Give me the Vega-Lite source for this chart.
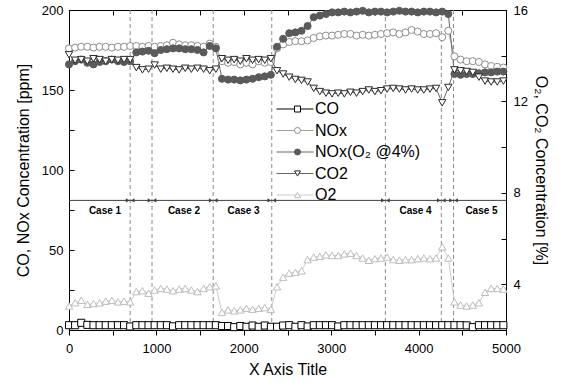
{
"$schema": "https://vega.github.io/schema/vega-lite/v6.json",
"width": 437, "height": 320,
"autosize": "none",
"padding": {"left": 69, "top": 10, "right": 57, "bottom": 53},
"background": "white",
"config": {
  "font": "Liberation Sans",
  "view": {"stroke": "#000000", "strokeWidth": 1},
  "axis": {"grid": false, "domainColor": "#000000", "tickColor": "#000000", "labelColor": "#000000", "titleColor": "#000000", "labelFontSize": 13, "titleFontSize": 16, "titleFontWeight": "normal", "labelFont": "Liberation Sans", "titleFont": "Liberation Sans", "labelOverlap": false, "labelFlush": false}
},
"datasets": {
  "cuts": [{"x": 700}, {"x": 950}, {"x": 1650}, {"x": 2320}, {"x": 3620}, {"x": 4260}, {"x": 4400}],
  "cases": [{"x": 412, "t": "Case 1"}, {"x": 1316, "t": "Case 2"}, {"x": 1997, "t": "Case 3"}, {"x": 3965, "t": "Case 4"}, {"x": 4720, "t": "Case 5"}],
  "L": [
{"x":0,"s":"CO","v":3},{"x":70,"s":"CO","v":3},{"x":140,"s":"CO","v":4.5},{"x":210,"s":"CO","v":3.2},{"x":280,"s":"CO","v":3},{"x":350,"s":"CO","v":3},{"x":420,"s":"CO","v":3},{"x":490,"s":"CO","v":3},{"x":560,"s":"CO","v":3},{"x":630,"s":"CO","v":3},{"x":700,"s":"CO","v":2.2},{"x":770,"s":"CO","v":3},{"x":840,"s":"CO","v":3},{"x":910,"s":"CO","v":3},{"x":980,"s":"CO","v":3},{"x":1050,"s":"CO","v":3},{"x":1120,"s":"CO","v":3},{"x":1190,"s":"CO","v":2.3},{"x":1260,"s":"CO","v":3},{"x":1330,"s":"CO","v":3},{"x":1400,"s":"CO","v":3},{"x":1470,"s":"CO","v":3},{"x":1540,"s":"CO","v":3},{"x":1610,"s":"CO","v":3},{"x":1680,"s":"CO","v":3},{"x":1750,"s":"CO","v":2.5},{"x":1820,"s":"CO","v":2.5},{"x":1890,"s":"CO","v":1.8},{"x":1960,"s":"CO","v":2.5},{"x":2030,"s":"CO","v":2},{"x":2100,"s":"CO","v":2.8},{"x":2170,"s":"CO","v":2},{"x":2240,"s":"CO","v":2.8},{"x":2310,"s":"CO","v":2},{"x":2380,"s":"CO","v":2},{"x":2450,"s":"CO","v":2.8},{"x":2520,"s":"CO","v":3},{"x":2590,"s":"CO","v":2},{"x":2660,"s":"CO","v":3},{"x":2730,"s":"CO","v":2.2},{"x":2800,"s":"CO","v":3},{"x":2870,"s":"CO","v":3},{"x":2940,"s":"CO","v":3},{"x":3010,"s":"CO","v":3},{"x":3080,"s":"CO","v":2.2},{"x":3150,"s":"CO","v":3},{"x":3220,"s":"CO","v":3},{"x":3290,"s":"CO","v":3},{"x":3360,"s":"CO","v":3},{"x":3430,"s":"CO","v":3},{"x":3500,"s":"CO","v":3},{"x":3570,"s":"CO","v":3},{"x":3640,"s":"CO","v":3},{"x":3710,"s":"CO","v":3},{"x":3780,"s":"CO","v":3},{"x":3850,"s":"CO","v":3},{"x":3920,"s":"CO","v":3},{"x":3990,"s":"CO","v":3},{"x":4060,"s":"CO","v":3},{"x":4130,"s":"CO","v":3},{"x":4200,"s":"CO","v":3},{"x":4270,"s":"CO","v":3},{"x":4340,"s":"CO","v":3},{"x":4410,"s":"CO","v":3},{"x":4480,"s":"CO","v":3},{"x":4550,"s":"CO","v":2.9},{"x":4620,"s":"CO","v":1.8},{"x":4690,"s":"CO","v":3},{"x":4760,"s":"CO","v":3},{"x":4830,"s":"CO","v":3},{"x":4900,"s":"CO","v":3},{"x":4970,"s":"CO","v":3},
{"x":0,"s":"NOx","v":176},{"x":70,"s":"NOx","v":176.5},{"x":140,"s":"NOx","v":177},{"x":210,"s":"NOx","v":177},{"x":280,"s":"NOx","v":176.5},{"x":350,"s":"NOx","v":177},{"x":420,"s":"NOx","v":177},{"x":490,"s":"NOx","v":176.5},{"x":560,"s":"NOx","v":177},{"x":630,"s":"NOx","v":177},{"x":700,"s":"NOx","v":177.5},{"x":770,"s":"NOx","v":177.5},{"x":840,"s":"NOx","v":177},{"x":910,"s":"NOx","v":177.5},{"x":980,"s":"NOx","v":177},{"x":1050,"s":"NOx","v":177.5},{"x":1120,"s":"NOx","v":178},{"x":1190,"s":"NOx","v":179.5},{"x":1260,"s":"NOx","v":178.5},{"x":1330,"s":"NOx","v":178},{"x":1400,"s":"NOx","v":178},{"x":1470,"s":"NOx","v":177.5},{"x":1540,"s":"NOx","v":177},{"x":1610,"s":"NOx","v":179},{"x":1680,"s":"NOx","v":177},{"x":1750,"s":"NOx","v":168},{"x":1820,"s":"NOx","v":167},{"x":1890,"s":"NOx","v":167.5},{"x":1960,"s":"NOx","v":166},{"x":2030,"s":"NOx","v":167},{"x":2100,"s":"NOx","v":166},{"x":2170,"s":"NOx","v":168},{"x":2240,"s":"NOx","v":167},{"x":2310,"s":"NOx","v":167.5},{"x":2380,"s":"NOx","v":176},{"x":2450,"s":"NOx","v":178.5},{"x":2520,"s":"NOx","v":180},{"x":2590,"s":"NOx","v":180.5},{"x":2660,"s":"NOx","v":180.5},{"x":2730,"s":"NOx","v":181},{"x":2800,"s":"NOx","v":182.5},{"x":2870,"s":"NOx","v":183.5},{"x":2940,"s":"NOx","v":184},{"x":3010,"s":"NOx","v":184},{"x":3080,"s":"NOx","v":184.5},{"x":3150,"s":"NOx","v":185},{"x":3220,"s":"NOx","v":185},{"x":3290,"s":"NOx","v":184},{"x":3360,"s":"NOx","v":184.5},{"x":3430,"s":"NOx","v":184},{"x":3500,"s":"NOx","v":184.5},{"x":3570,"s":"NOx","v":185},{"x":3640,"s":"NOx","v":185.5},{"x":3710,"s":"NOx","v":186},{"x":3780,"s":"NOx","v":185},{"x":3850,"s":"NOx","v":186},{"x":3920,"s":"NOx","v":187.5},{"x":3990,"s":"NOx","v":186.5},{"x":4060,"s":"NOx","v":185},{"x":4130,"s":"NOx","v":185},{"x":4200,"s":"NOx","v":185.5},{"x":4270,"s":"NOx","v":183},{"x":4340,"s":"NOx","v":187},{"x":4410,"s":"NOx","v":171},{"x":4480,"s":"NOx","v":169},{"x":4550,"s":"NOx","v":168},{"x":4620,"s":"NOx","v":168},{"x":4690,"s":"NOx","v":167.5},{"x":4760,"s":"NOx","v":166},{"x":4830,"s":"NOx","v":165},{"x":4900,"s":"NOx","v":164.5},{"x":4970,"s":"NOx","v":164},
{"x":0,"s":"NOxc","v":166},{"x":70,"s":"NOxc","v":168},{"x":140,"s":"NOxc","v":169},{"x":210,"s":"NOxc","v":167},{"x":280,"s":"NOxc","v":166},{"x":350,"s":"NOxc","v":167.5},{"x":420,"s":"NOxc","v":168},{"x":490,"s":"NOxc","v":169},{"x":560,"s":"NOxc","v":168},{"x":630,"s":"NOxc","v":167.5},{"x":700,"s":"NOxc","v":168},{"x":770,"s":"NOxc","v":173.5},{"x":840,"s":"NOxc","v":174},{"x":910,"s":"NOxc","v":174.5},{"x":980,"s":"NOxc","v":173},{"x":1050,"s":"NOxc","v":175},{"x":1120,"s":"NOxc","v":175.5},{"x":1190,"s":"NOxc","v":176},{"x":1260,"s":"NOxc","v":176},{"x":1330,"s":"NOxc","v":175.5},{"x":1400,"s":"NOxc","v":175.5},{"x":1470,"s":"NOxc","v":175},{"x":1540,"s":"NOxc","v":173.5},{"x":1610,"s":"NOxc","v":177.5},{"x":1680,"s":"NOxc","v":176},{"x":1750,"s":"NOxc","v":157},{"x":1820,"s":"NOxc","v":156.5},{"x":1890,"s":"NOxc","v":156.5},{"x":1960,"s":"NOxc","v":156},{"x":2030,"s":"NOxc","v":156.5},{"x":2100,"s":"NOxc","v":157},{"x":2170,"s":"NOxc","v":158},{"x":2240,"s":"NOxc","v":158.5},{"x":2310,"s":"NOxc","v":159.5},{"x":2380,"s":"NOxc","v":177},{"x":2450,"s":"NOxc","v":182},{"x":2520,"s":"NOxc","v":185.5},{"x":2590,"s":"NOxc","v":186},{"x":2660,"s":"NOxc","v":187},{"x":2730,"s":"NOxc","v":190},{"x":2800,"s":"NOxc","v":195.5},{"x":2870,"s":"NOxc","v":196.5},{"x":2940,"s":"NOxc","v":197.5},{"x":3010,"s":"NOxc","v":198.5},{"x":3080,"s":"NOxc","v":198.5},{"x":3150,"s":"NOxc","v":199},{"x":3220,"s":"NOxc","v":198.5},{"x":3290,"s":"NOxc","v":199},{"x":3360,"s":"NOxc","v":199.5},{"x":3430,"s":"NOxc","v":198.5},{"x":3500,"s":"NOxc","v":199},{"x":3570,"s":"NOxc","v":199},{"x":3640,"s":"NOxc","v":198.5},{"x":3710,"s":"NOxc","v":199},{"x":3780,"s":"NOxc","v":199.5},{"x":3850,"s":"NOxc","v":199},{"x":3920,"s":"NOxc","v":199},{"x":3990,"s":"NOxc","v":198.5},{"x":4060,"s":"NOxc","v":199},{"x":4130,"s":"NOxc","v":199},{"x":4200,"s":"NOxc","v":198.5},{"x":4270,"s":"NOxc","v":199},{"x":4340,"s":"NOxc","v":197.5},{"x":4410,"s":"NOxc","v":160},{"x":4480,"s":"NOxc","v":159.5},{"x":4550,"s":"NOxc","v":160},{"x":4620,"s":"NOxc","v":160},{"x":4690,"s":"NOxc","v":160.5},{"x":4760,"s":"NOxc","v":161},{"x":4830,"s":"NOxc","v":161},{"x":4900,"s":"NOxc","v":161.5},{"x":4970,"s":"NOxc","v":161.5}
  ],
  "R": [
{"x":0,"s":"CO2","v":14.04},{"x":70,"s":"CO2","v":13.8},{"x":140,"s":"CO2","v":13.83},{"x":210,"s":"CO2","v":13.76},{"x":280,"s":"CO2","v":13.87},{"x":350,"s":"CO2","v":13.83},{"x":420,"s":"CO2","v":13.76},{"x":490,"s":"CO2","v":13.83},{"x":560,"s":"CO2","v":13.8},{"x":630,"s":"CO2","v":13.83},{"x":700,"s":"CO2","v":13.83},{"x":770,"s":"CO2","v":13.48},{"x":840,"s":"CO2","v":13.38},{"x":910,"s":"CO2","v":13.41},{"x":980,"s":"CO2","v":13.59},{"x":1050,"s":"CO2","v":13.41},{"x":1120,"s":"CO2","v":13.45},{"x":1190,"s":"CO2","v":13.41},{"x":1260,"s":"CO2","v":13.38},{"x":1330,"s":"CO2","v":13.45},{"x":1400,"s":"CO2","v":13.41},{"x":1470,"s":"CO2","v":13.45},{"x":1540,"s":"CO2","v":13.41},{"x":1610,"s":"CO2","v":13.34},{"x":1680,"s":"CO2","v":13.41},{"x":1750,"s":"CO2","v":13.87},{"x":1820,"s":"CO2","v":13.8},{"x":1890,"s":"CO2","v":13.83},{"x":1960,"s":"CO2","v":13.76},{"x":2030,"s":"CO2","v":13.87},{"x":2100,"s":"CO2","v":13.8},{"x":2170,"s":"CO2","v":13.83},{"x":2240,"s":"CO2","v":13.8},{"x":2310,"s":"CO2","v":13.87},{"x":2380,"s":"CO2","v":13.34},{"x":2450,"s":"CO2","v":13.2},{"x":2520,"s":"CO2","v":13.06},{"x":2590,"s":"CO2","v":12.96},{"x":2660,"s":"CO2","v":12.92},{"x":2730,"s":"CO2","v":12.85},{"x":2800,"s":"CO2","v":12.57},{"x":2870,"s":"CO2","v":12.43},{"x":2940,"s":"CO2","v":12.36},{"x":3010,"s":"CO2","v":12.33},{"x":3080,"s":"CO2","v":12.36},{"x":3150,"s":"CO2","v":12.33},{"x":3220,"s":"CO2","v":12.4},{"x":3290,"s":"CO2","v":12.36},{"x":3360,"s":"CO2","v":12.43},{"x":3430,"s":"CO2","v":12.5},{"x":3500,"s":"CO2","v":12.43},{"x":3570,"s":"CO2","v":12.47},{"x":3640,"s":"CO2","v":12.54},{"x":3710,"s":"CO2","v":12.57},{"x":3780,"s":"CO2","v":12.54},{"x":3850,"s":"CO2","v":12.5},{"x":3920,"s":"CO2","v":12.54},{"x":3990,"s":"CO2","v":12.5},{"x":4060,"s":"CO2","v":12.5},{"x":4130,"s":"CO2","v":12.54},{"x":4200,"s":"CO2","v":12.57},{"x":4270,"s":"CO2","v":11.94},{"x":4340,"s":"CO2","v":12.61},{"x":4410,"s":"CO2","v":13.38},{"x":4480,"s":"CO2","v":13.34},{"x":4550,"s":"CO2","v":13.31},{"x":4620,"s":"CO2","v":13.27},{"x":4690,"s":"CO2","v":13.06},{"x":4760,"s":"CO2","v":12.89},{"x":4830,"s":"CO2","v":12.85},{"x":4900,"s":"CO2","v":12.85},{"x":4970,"s":"CO2","v":12.89},
{"x":0,"s":"O2","v":3.05},{"x":70,"s":"O2","v":3.19},{"x":140,"s":"O2","v":3.3},{"x":210,"s":"O2","v":3.12},{"x":280,"s":"O2","v":3.16},{"x":350,"s":"O2","v":3.19},{"x":420,"s":"O2","v":3.26},{"x":490,"s":"O2","v":3.3},{"x":560,"s":"O2","v":3.23},{"x":630,"s":"O2","v":3.26},{"x":700,"s":"O2","v":3.23},{"x":770,"s":"O2","v":3.68},{"x":840,"s":"O2","v":3.72},{"x":910,"s":"O2","v":3.61},{"x":980,"s":"O2","v":3.75},{"x":1050,"s":"O2","v":3.82},{"x":1120,"s":"O2","v":3.79},{"x":1190,"s":"O2","v":3.72},{"x":1260,"s":"O2","v":3.79},{"x":1330,"s":"O2","v":3.82},{"x":1400,"s":"O2","v":3.75},{"x":1470,"s":"O2","v":3.68},{"x":1540,"s":"O2","v":3.82},{"x":1610,"s":"O2","v":3.89},{"x":1680,"s":"O2","v":3.93},{"x":1750,"s":"O2","v":2.77},{"x":1820,"s":"O2","v":2.88},{"x":1890,"s":"O2","v":2.84},{"x":1960,"s":"O2","v":2.88},{"x":2030,"s":"O2","v":2.95},{"x":2100,"s":"O2","v":2.91},{"x":2170,"s":"O2","v":2.95},{"x":2240,"s":"O2","v":2.98},{"x":2310,"s":"O2","v":2.91},{"x":2380,"s":"O2","v":3.89},{"x":2450,"s":"O2","v":4.31},{"x":2520,"s":"O2","v":4.49},{"x":2590,"s":"O2","v":4.52},{"x":2660,"s":"O2","v":4.59},{"x":2730,"s":"O2","v":5.08},{"x":2800,"s":"O2","v":5.19},{"x":2870,"s":"O2","v":5.22},{"x":2940,"s":"O2","v":5.29},{"x":3010,"s":"O2","v":5.26},{"x":3080,"s":"O2","v":5.26},{"x":3150,"s":"O2","v":5.33},{"x":3220,"s":"O2","v":5.36},{"x":3290,"s":"O2","v":5.26},{"x":3360,"s":"O2","v":5.15},{"x":3430,"s":"O2","v":5.05},{"x":3500,"s":"O2","v":5.12},{"x":3570,"s":"O2","v":5.15},{"x":3640,"s":"O2","v":5.19},{"x":3710,"s":"O2","v":5.08},{"x":3780,"s":"O2","v":5.05},{"x":3850,"s":"O2","v":5.08},{"x":3920,"s":"O2","v":5.08},{"x":3990,"s":"O2","v":5.12},{"x":4060,"s":"O2","v":5.15},{"x":4130,"s":"O2","v":5.12},{"x":4200,"s":"O2","v":5.15},{"x":4270,"s":"O2","v":5.64},{"x":4340,"s":"O2","v":5.15},{"x":4410,"s":"O2","v":3.23},{"x":4480,"s":"O2","v":3.09},{"x":4550,"s":"O2","v":3.05},{"x":4620,"s":"O2","v":3.09},{"x":4690,"s":"O2","v":3.19},{"x":4760,"s":"O2","v":3.65},{"x":4830,"s":"O2","v":3.82},{"x":4900,"s":"O2","v":3.82},{"x":4970,"s":"O2","v":3.79}
  ]
},
"layer": [
  {
    "layer": [
      {"data": {"name": "cuts"}, "mark": {"type": "rule", "color": "#8a8a8a", "strokeDash": [4, 3], "strokeWidth": 1},
       "encoding": {"x": {"field": "x", "type": "quantitative"}}},
      {"data": {"values": [{}]}, "mark": {"type": "rule", "color": "#404040", "strokeWidth": 1},
       "encoding": {"y": {"datum": 81, "type": "quantitative"}}},
      {"data": {"name": "cuts"}, "mark": {"type": "point", "shape": "triangle-right", "size": 18, "filled": true, "color": "#404040", "opacity": 1, "xOffset": -2.5},
       "encoding": {"x": {"field": "x", "type": "quantitative"}, "y": {"datum": 81, "type": "quantitative"}}},
      {"data": {"name": "cuts"}, "mark": {"type": "point", "shape": "triangle-left", "size": 18, "filled": true, "color": "#404040", "opacity": 1, "xOffset": 2.5},
       "encoding": {"x": {"field": "x", "type": "quantitative"}, "y": {"datum": 81, "type": "quantitative"}}},
      {"data": {"name": "cases"}, "mark": {"type": "text", "fontWeight": "bold", "fontSize": 10, "color": "#000000", "baseline": "middle", "align": "center"},
       "encoding": {"x": {"field": "x", "type": "quantitative"}, "y": {"datum": 74.5, "type": "quantitative"}, "text": {"field": "t"}}},
      {"data": {"name": "L"}, "mark": {"type": "line", "strokeWidth": 1},
       "encoding": {
         "x": {"field": "x", "type": "quantitative"},
         "y": {"field": "v", "type": "quantitative"},
         "detail": {"field": "s"},
         "color": {"field": "s", "type": "nominal", "scale": {"domain": ["O2", "CO2", "NOxc", "NOx", "CO"], "range": ["#cccccc", "#666666", "#666666", "#a0a0a0", "#000000"]},
           "legend": {"title": null, "orient": "none", "legendX": 218, "legendY": 91, "padding": 0, "values": ["CO", "NOx", "NOxc", "CO2", "O2"], "labelFontSize": 16, "labelFont": "Liberation Sans", "labelColor": "#000000", "symbolSize": 100, "symbolType": "M-3.7,0H3.7", "symbolStrokeWidth": 1, "labelOffset": 12, "rowPadding": 5.5,
             "labelExpr": "datum.value === 'NOxc' ? 'NOx(O₂ @4%)' : datum.label"}}
       }},
      {"data": {"name": "L"}, "mark": {"type": "point", "size": 50, "strokeWidth": 1, "opacity": 1},
       "encoding": {
         "x": {"field": "x", "type": "quantitative"},
         "y": {"field": "v", "type": "quantitative"},
         "stroke": {"field": "s", "type": "nominal", "scale": {"domain": ["CO", "NOx", "NOxc", "CO2", "O2"], "range": ["#000000", "#8c8c8c", "#5a5a5a", "#2a2a2a", "#bdbdbd"]}},
         "fill": {"field": "s", "type": "nominal", "scale": {"domain": ["CO", "NOx", "NOxc", "CO2", "O2"], "range": ["#ffffff", "#ffffff", "#5a5a5a", "#ffffff", "#ffffff"]}},
         "shape": {"field": "s", "type": "nominal", "scale": {"domain": ["CO", "NOx", "NOxc", "CO2", "O2"], "range": ["square", "circle", "circle", "triangle-down", "triangle-up"]},
           "legend": {"title": null, "orient": "none", "legendX": 220.5, "legendY": 91, "padding": 0, "labelFontSize": 16, "labelFont": "Liberation Sans", "labelOpacity": 0, "labelExpr": "''", "symbolSize": 36, "symbolStrokeWidth": 1, "symbolOpacity": 1, "labelOffset": 12, "rowPadding": 5.5}}
       }}
    ],
    "encoding": {
      "x": {"type": "quantitative", "scale": {"domain": [0, 5000], "nice": false}, "axis": {"orient": "bottom", "title": "X Axis Title", "values": [0, 500, 1000, 1500, 2000, 2500, 3000, 3500, 4000, 4500, 5000], "labelExpr": "datum.value % 1000 === 0 ? datum.label : ''", "tickSize": 5, "labelPadding": 7, "titlePadding": 6, "format": "d",
        "encode": {"ticks": {"update": {"y2": {"signal": "datum.value % 1000 === 0 ? 5 : 3"}}}}}},
      "y": {"type": "quantitative", "scale": {"domain": [0, 200], "nice": false}, "axis": {"orient": "left", "title": "CO, NOx Concentration [ppm]", "values": [0, 25, 50, 75, 100, 125, 150, 175, 200], "labelExpr": "datum.value % 50 === 0 ? datum.label : ''", "tickSize": -5, "labelPadding": 11, "titlePadding": 10,
        "encode": {"ticks": {"update": {"x2": {"signal": "datum.value % 50 === 0 ? 5 : 3"}}}}}}
    }
  },
  {
    "layer": [
      {"data": {"name": "R"}, "mark": {"type": "line", "strokeWidth": 1},
       "encoding": {
         "x": {"field": "x", "type": "quantitative"},
         "y": {"field": "v", "type": "quantitative"},
         "detail": {"field": "s"},
         "color": {"field": "s", "type": "nominal", "scale": {"domain": ["O2", "CO2", "NOxc", "NOx", "CO"], "range": ["#cccccc", "#666666", "#666666", "#a0a0a0", "#000000"]}}
       }},
      {"data": {"name": "R"}, "mark": {"type": "point", "size": 55, "strokeWidth": 1, "opacity": 1},
       "encoding": {
         "x": {"field": "x", "type": "quantitative"},
         "y": {"field": "v", "type": "quantitative"},
         "stroke": {"field": "s", "type": "nominal", "scale": {"domain": ["CO", "NOx", "NOxc", "CO2", "O2"], "range": ["#000000", "#8c8c8c", "#5a5a5a", "#2a2a2a", "#bdbdbd"]}},
         "fill": {"field": "s", "type": "nominal", "scale": {"domain": ["CO", "NOx", "NOxc", "CO2", "O2"], "range": ["#ffffff", "#ffffff", "#5a5a5a", "#ffffff", "#ffffff"]}},
         "shape": {"field": "s", "type": "nominal", "scale": {"domain": ["CO", "NOx", "NOxc", "CO2", "O2"], "range": ["square", "circle", "circle", "triangle-down", "triangle-up"]}}
       }}
    ],
    "encoding": {
      "x": {"type": "quantitative", "scale": {"domain": [0, 5000], "nice": false}, "axis": {"orient": "top", "title": null, "labels": false, "values": [0, 500, 1000, 1500, 2000, 2500, 3000, 3500, 4000, 4500, 5000], "tickSize": -5,
        "encode": {"ticks": {"update": {"y2": {"signal": "datum.value % 1000 === 0 ? 5 : 3"}}}}}},
      "y": {"type": "quantitative", "scale": {"domain": [2, 16], "nice": false}, "axis": {"orient": "right", "title": "O₂, CO₂ Concentration [%]", "values": [2, 4, 6, 8, 10, 12, 14, 16], "labelExpr": "datum.value % 4 === 0 ? datum.label : ''", "tickSize": -5, "labelPadding": 12, "titlePadding": 5,
        "encode": {"ticks": {"update": {"x2": {"signal": "datum.value % 4 === 0 ? -5 : -3"}}}}}}
    }
  }
],
"resolve": {"scale": {"y": "independent"}, "axis": {"x": "independent", "y": "independent"}}
}
